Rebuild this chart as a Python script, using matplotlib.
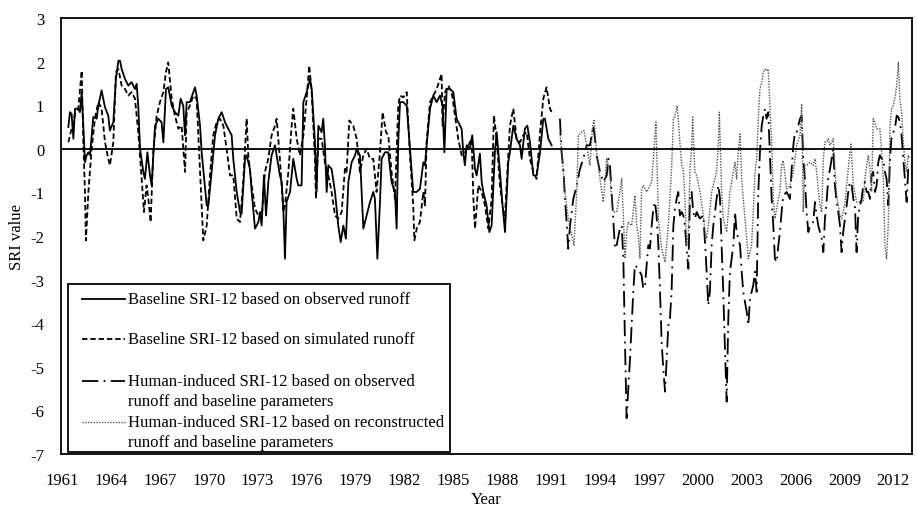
import numpy as np
import matplotlib
matplotlib.use('Agg')
import matplotlib.pyplot as plt
from matplotlib.lines import Line2D
from matplotlib.patches import Rectangle

# baseline SRI-12, observed runoff (1961-1990)
obs_year = [1961.39, 1961.49, 1961.59, 1961.70, 1961.80, 1962.00, 1962.10, 1962.21, 1962.31, 1962.41,
            1962.51, 1962.62, 1962.72, 1962.92, 1963.13, 1963.23, 1963.43, 1963.64, 1963.84, 1963.94,
            1964.15, 1964.31, 1964.46, 1964.56, 1964.66, 1964.87, 1965.07, 1965.27, 1965.48, 1965.58,
            1965.68, 1965.79, 1965.99, 1966.09, 1966.24, 1966.40, 1966.50, 1966.71, 1966.91, 1967.11,
            1967.22, 1967.38, 1967.52, 1967.73, 1967.93, 1968.14, 1968.28, 1968.44, 1968.55, 1968.65,
            1968.85, 1969.06, 1969.16, 1969.26, 1969.47, 1969.57, 1969.88, 1969.98, 1970.18, 1970.39,
            1970.59, 1970.80, 1971.00, 1971.20, 1971.41, 1971.51, 1971.72, 1971.92, 1972.02, 1972.23,
            1972.33, 1972.53, 1972.64, 1972.84, 1973.05, 1973.15, 1973.25, 1973.39, 1973.52, 1973.66,
            1973.86, 1974.07, 1974.37, 1974.48, 1974.58, 1974.68, 1974.78, 1974.99, 1975.19, 1975.40,
            1975.50, 1975.70, 1975.81, 1976.01, 1976.22, 1976.32, 1976.52, 1976.62, 1976.73, 1976.93,
            1977.03, 1977.13, 1977.24, 1977.34, 1977.54, 1977.75, 1977.95, 1978.10, 1978.26, 1978.42,
            1978.57, 1978.77, 1978.98, 1979.08, 1979.28, 1979.49, 1979.69, 1979.90, 1980.10, 1980.20,
            1980.35, 1980.51, 1980.61, 1980.82, 1981.02, 1981.22, 1981.43, 1981.53, 1981.63, 1981.74,
            1981.94, 1982.15, 1982.35, 1982.55, 1982.76, 1982.96, 1983.17, 1983.27, 1983.37, 1983.58,
            1983.78, 1983.99, 1984.19, 1984.35, 1984.46, 1984.60, 1984.80, 1985.01, 1985.11, 1985.21,
            1985.42, 1985.52, 1985.62, 1985.72, 1985.83, 1986.03, 1986.17, 1986.34, 1986.44, 1986.64,
            1986.75, 1986.85, 1987.05, 1987.22, 1987.36, 1987.56, 1987.67, 1987.87, 1988.03, 1988.18,
            1988.38, 1988.48, 1988.69, 1988.89, 1989.10, 1989.20, 1989.40, 1989.55, 1989.71, 1989.92,
            1990.12, 1990.33, 1990.53, 1990.63, 1990.84, 1991.04]
obs_sri = [0.50, 0.84, 0.80, 0.23, 0.92, 0.92, 0.84, 1.30, 0.53, -0.31,
           -0.15, -0.08, -0.15, 0.73, 0.69, 0.99, 1.34, 0.95, 0.76, 0.42,
           0.61, 1.60, 2.02, 2.02, 1.83, 1.60, 1.45, 1.53, 1.37, 1.49,
           0.99, 0.00, -0.53, -0.69, -0.08, -0.61, -0.84, 0.53, 0.69, 0.61,
           0.15, 1.37, 1.41, 0.99, 0.84, 0.76, 1.15, 0.99, 0.31, 1.07,
           1.07, 1.30, 1.41, 1.22, 0.53, -0.08, -1.30, -1.30, -0.53, 0.31,
           0.69, 0.84, 0.61, 0.46, 0.31, -0.23, -0.99, -1.45, -1.49, -0.23,
           -0.15, -0.46, -0.99, -1.83, -1.68, -1.45, -1.76, -0.61, -1.53, -0.76,
           -0.15, 0.08, -0.61, -0.76, -1.37, -2.52, -1.22, -0.99, -0.23, -0.69,
           -0.84, -0.84, 1.07, 1.30, 1.60, 1.37, 0.15, -0.99, 0.53, 0.38,
           0.69, 0.08, -0.99, -0.38, -0.46, -0.99, -1.76, -2.14, -1.76, -2.06,
           -0.76, -0.31, -0.15, 0.00, -0.15, -1.83, -1.53, -1.22, -0.99, -1.15,
           -2.52, -1.22, -0.23, -0.08, -0.08, -0.76, -0.99, -1.83, 0.15, 1.07,
           1.07, 0.99, 0.00, -0.99, -0.99, -0.92, -0.31, -0.38, 0.08, 0.92,
           1.22, 1.07, 1.22, 0.99, -0.08, 1.37, 1.37, 1.30, 0.99, 0.69,
           0.53, 0.46, -0.08, -0.38, 0.08, 0.00, 0.31, -0.46, -0.61, -0.11,
           -0.76, -0.99, -1.30, -1.91, -1.76, -0.08, 0.38, -0.53, -1.30, -1.91,
           -0.31, -0.08, 0.53, 0.23, 0.08, -0.23, 0.46, 0.53, 0.15, -0.61,
           -0.61, -0.08, 0.69, 0.69, 0.23, 0.08]

# baseline SRI-12, simulated runoff (1961-1990)
sim_year = [1961.39, 1961.49, 1961.70, 1961.80, 1962.00, 1962.21, 1962.31, 1962.41, 1962.47, 1962.62,
            1962.82, 1963.02, 1963.23, 1963.43, 1963.64, 1963.84, 1963.94, 1964.15, 1964.31, 1964.46,
            1964.66, 1964.87, 1965.07, 1965.27, 1965.48, 1965.68, 1965.89, 1966.03, 1966.19, 1966.30,
            1966.44, 1966.60, 1966.81, 1967.01, 1967.22, 1967.38, 1967.52, 1967.73, 1967.93, 1968.14,
            1968.34, 1968.55, 1968.65, 1968.85, 1969.06, 1969.26, 1969.47, 1969.67, 1969.88, 1970.08,
            1970.28, 1970.49, 1970.69, 1970.90, 1971.10, 1971.31, 1971.51, 1971.72, 1971.92, 1972.12,
            1972.33, 1972.43, 1972.64, 1972.84, 1973.05, 1973.25, 1973.45, 1973.66, 1973.86, 1974.07,
            1974.17, 1974.37, 1974.58, 1974.68, 1974.89, 1975.09, 1975.19, 1975.40, 1975.60, 1975.81,
            1976.01, 1976.17, 1976.32, 1976.52, 1976.58, 1976.73, 1976.93, 1977.13, 1977.34, 1977.54,
            1977.75, 1977.95, 1978.16, 1978.36, 1978.46, 1978.63, 1978.87, 1979.08, 1979.28, 1979.49,
            1979.69, 1979.90, 1980.10, 1980.30, 1980.51, 1980.67, 1980.88, 1981.02, 1981.22, 1981.43,
            1981.63, 1981.74, 1981.94, 1982.15, 1982.35, 1982.55, 1982.62, 1982.76, 1982.96, 1983.17,
            1983.27, 1983.37, 1983.58, 1983.78, 1983.99, 1984.19, 1984.29, 1984.35, 1984.50, 1984.70,
            1984.91, 1985.11, 1985.31, 1985.52, 1985.72, 1985.93, 1986.13, 1986.24, 1986.34, 1986.54,
            1986.75, 1986.95, 1987.16, 1987.36, 1987.50, 1987.67, 1987.87, 1988.08, 1988.18, 1988.38,
            1988.48, 1988.69, 1988.89, 1989.10, 1989.30, 1989.51, 1989.71, 1989.92, 1990.12, 1990.33,
            1990.53, 1990.73, 1990.94, 1991.04]
sim_sri = [0.15, 0.31, 0.61, 0.80, 0.92, 1.79, 0.15, -0.99, -2.10, -0.99,
           0.00, 0.69, 1.07, 0.92, 0.15, -0.23, -0.38, 0.15, 1.76, 1.83,
           1.45, 1.37, 1.22, 1.30, 1.15, 0.38, -0.69, -1.45, -0.84, -1.15,
           -1.68, -0.08, 0.76, 1.07, 1.30, 1.76, 1.98, 1.15, 0.76, 0.46,
           0.53, -0.53, 0.84, 0.99, 1.22, 1.15, -0.53, -2.10, -1.76, -0.61,
           0.31, 0.61, 0.69, 0.53, 0.00, -0.61, -0.61, -1.60, -1.68, -0.76,
           0.69, -0.15, -0.84, -1.37, -1.53, -1.60, -0.53, -0.23, 0.31, 0.53,
           0.69, -0.23, -1.45, -1.30, -0.53, 0.53, 0.92, 0.23, -0.15, 0.31,
           1.15, 1.91, 1.30, -0.23, -1.15, 0.23, 0.23, -0.31, -0.61, -0.99,
           -1.53, -1.60, -1.45, -0.46, -0.53, 0.65, 0.53, 0.23, -0.53, -0.15,
           0.00, -0.23, -0.23, -0.99, -0.08, 0.84, 0.38, 0.31, -0.53, -1.15,
           0.99, 1.22, 1.18, 1.30, -0.15, -1.30, -2.10, -1.83, -1.68, -0.99,
           -1.30, 0.15, 1.07, 1.22, 1.37, 1.60, 1.72, 0.53, 1.30, 1.45,
           1.30, 0.76, 0.23, -0.15, -0.08, 0.08, 0.23, -1.15, -1.83, -0.84,
           -0.99, -1.30, -1.83, -1.15, 0.76, 0.23, -0.84, -1.45, -1.53, -0.15,
           0.53, 0.92, 0.23, 0.15, 0.31, 0.38, -0.23, -0.53, -0.69, 0.38,
           1.15, 1.41, 0.92, 0.84]

# human-induced SRI-12, observed runoff (1991-2012)
hum_year = [1991.55, 1991.65, 1991.76, 1991.86, 1991.96, 1992.06, 1992.17, 1992.27, 1992.37, 1992.58,
            1992.78, 1992.98, 1993.19, 1993.39, 1993.60, 1993.70, 1993.80, 1994.01, 1994.21, 1994.42,
            1994.52, 1994.62, 1994.72, 1994.82, 1994.93, 1995.03, 1995.23, 1995.34, 1995.44, 1995.54,
            1995.64, 1995.85, 1996.05, 1996.15, 1996.36, 1996.56, 1996.66, 1996.77, 1996.97, 1997.07,
            1997.18, 1997.28, 1997.38, 1997.48, 1997.59, 1997.69, 1997.79, 1997.89, 1998.00, 1998.10,
            1998.20, 1998.30, 1998.40, 1998.51, 1998.61, 1998.71, 1998.81, 1998.91, 1999.02, 1999.12,
            1999.22, 1999.32, 1999.43, 1999.53, 1999.63, 1999.73, 1999.83, 1999.94, 2000.04, 2000.14,
            2000.35, 2000.51, 2000.65, 2000.75, 2000.86, 2000.96, 2001.16, 2001.27, 2001.37, 2001.47,
            2001.57, 2001.68, 2001.78, 2001.88, 2001.98, 2002.19, 2002.29, 2002.39, 2002.49, 2002.60,
            2002.70, 2002.80, 2002.90, 2003.01, 2003.11, 2003.21, 2003.41, 2003.52, 2003.62, 2003.72,
            2003.82, 2003.93, 2004.03, 2004.13, 2004.23, 2004.33, 2004.44, 2004.54, 2004.64, 2004.74,
            2004.85, 2004.95, 2005.05, 2005.15, 2005.25, 2005.46, 2005.66, 2005.77, 2005.87, 2005.97,
            2006.07, 2006.28, 2006.38, 2006.48, 2006.58, 2006.68, 2006.79, 2006.89, 2007.09, 2007.20,
            2007.30, 2007.40, 2007.50, 2007.61, 2007.71, 2007.81, 2007.91, 2008.01, 2008.12, 2008.22,
            2008.32, 2008.42, 2008.53, 2008.63, 2008.73, 2008.83, 2008.93, 2009.04, 2009.14, 2009.24,
            2009.34, 2009.45, 2009.55, 2009.65, 2009.75, 2009.85, 2009.96, 2010.06, 2010.16, 2010.26,
            2010.37, 2010.47, 2010.57, 2010.67, 2010.77, 2010.88, 2010.98, 2011.08, 2011.18, 2011.29,
            2011.39, 2011.49, 2011.59, 2011.70, 2011.80, 2011.90, 2012.00, 2012.10, 2012.21, 2012.31,
            2012.41, 2012.51, 2012.62, 2012.72, 2012.82, 2012.92]
hum_sri = [0.69, -0.08, -0.46, -1.15, -1.68, -2.29, -1.76, -1.45, -1.15, -0.84,
           -0.46, -0.23, 0.08, 0.08, 0.53, 0.23, -0.15, -0.53, -0.76, -0.61,
           -0.23, -0.38, -0.99, -1.60, -2.29, -2.21, -1.83, -1.76, -2.52, -4.43,
           -6.18, -4.81, -3.28, -2.67, -2.75, -2.90, -3.21, -3.13, -2.21, -2.29,
           -1.76, -1.37, -1.22, -1.53, -2.21, -3.28, -4.43, -5.04, -5.57, -4.81,
           -4.05, -3.89, -3.28, -1.76, -1.37, -1.15, -0.99, -1.53, -1.45, -1.53,
           -1.76, -2.29, -2.75, -1.07, -0.99, -1.45, -1.60, -1.45, -1.53, -1.60,
           -1.53, -2.52, -3.59, -3.28, -2.21, -1.76, -1.15, -0.84, -1.15, -2.21,
           -3.28, -4.66, -5.80, -3.89, -2.82, -2.21, -1.45, -1.91, -2.06, -2.21,
           -2.82, -3.28, -3.51, -3.74, -4.05, -3.44, -3.13, -2.82, -3.28, -0.99,
           -0.08, 0.53, 0.76, 0.92, 0.69, 0.84, -0.23, -1.15, -1.76, -2.52,
           -2.60, -2.21, -1.91, -1.45, -1.07, -0.99, -1.15, -0.46, 0.08, 0.38,
           0.38, 0.69, 0.76, -0.23, -0.69, -1.45, -1.91, -1.76, -1.68, -1.22,
           -1.53, -1.76, -1.91, -2.06, -2.37, -1.60, -1.22, -0.69, -0.46, -0.23,
           0.00, -0.84, -1.22, -1.45, -1.76, -2.37, -1.91, -1.60, -1.30, -0.99,
           -0.76, -0.84, -1.15, -1.30, -2.37, -1.53, -1.30, -1.15, -0.84, -0.76,
           -0.99, -0.99, -1.15, -0.61, -0.53, -0.99, -0.84, -0.31, -0.15, -0.23,
           -0.23, -0.53, -0.69, -1.30, -0.23, 0.31, 0.38, 0.46, 0.76, 0.73,
           0.61, 0.31, -0.23, -0.69, -1.22, -0.46]

# human-induced SRI-12, reconstructed runoff (1991-2012)
rec_year = [1991.55, 1991.86, 1992.06, 1992.27, 1992.41, 1992.58, 1992.68, 1992.88, 1993.02, 1993.19,
            1993.39, 1993.56, 1993.64, 1993.80, 1994.01, 1994.21, 1994.42, 1994.62, 1994.72, 1994.82,
            1995.03, 1995.23, 1995.34, 1995.44, 1995.54, 1995.64, 1995.74, 1995.95, 1996.15, 1996.26,
            1996.36, 1996.46, 1996.56, 1996.66, 1996.87, 1997.07, 1997.18, 1997.28, 1997.44, 1997.59,
            1997.79, 1998.00, 1998.20, 1998.40, 1998.51, 1998.61, 1998.75, 1998.91, 1999.02, 1999.12,
            1999.22, 1999.32, 1999.43, 1999.53, 1999.63, 1999.69, 1999.83, 1999.94, 2000.14, 2000.35,
            2000.45, 2000.55, 2000.65, 2000.86, 2001.06, 2001.16, 2001.27, 2001.33, 2001.47, 2001.57,
            2001.78, 2001.98, 2002.19, 2002.29, 2002.39, 2002.49, 2002.60, 2002.70, 2002.80, 2003.01,
            2003.11, 2003.31, 2003.41, 2003.52, 2003.62, 2003.72, 2003.82, 2003.93, 2004.03, 2004.13,
            2004.23, 2004.33, 2004.44, 2004.54, 2004.64, 2004.74, 2004.95, 2005.05, 2005.15, 2005.25,
            2005.36, 2005.46, 2005.66, 2005.87, 2005.97, 2006.07, 2006.28, 2006.38, 2006.48, 2006.58,
            2006.68, 2006.89, 2007.09, 2007.20, 2007.30, 2007.50, 2007.61, 2007.71, 2007.81, 2007.91,
            2008.01, 2008.12, 2008.32, 2008.42, 2008.53, 2008.63, 2008.73, 2008.83, 2008.93, 2009.04,
            2009.14, 2009.24, 2009.34, 2009.41, 2009.55, 2009.75, 2009.96, 2010.16, 2010.26, 2010.37,
            2010.47, 2010.57, 2010.67, 2010.77, 2010.88, 2010.98, 2011.18, 2011.29, 2011.39, 2011.49,
            2011.59, 2011.70, 2011.80, 2011.90, 2012.00, 2012.10, 2012.21, 2012.31, 2012.41, 2012.51,
            2012.62, 2012.72, 2012.82, 2012.92, 2013.02]
rec_sri = [0.38, -0.99, -1.60, -1.98, -2.21, -0.99, 0.31, 0.38, 0.42, 0.08,
           -0.38, 0.53, 0.65, -0.08, -0.69, -1.22, -0.23, -0.61, -1.15, -1.45,
           -1.45, -0.99, -0.69, -1.53, -2.52, -1.91, -1.68, -1.76, -1.07, -1.76,
           -1.98, -2.52, -0.92, -0.84, -0.99, -0.84, -0.76, -0.23, 0.61, -1.60,
           -2.29, -2.60, -1.76, -0.46, 0.69, 0.76, 0.99, 0.15, -0.38, -0.46,
           -1.15, -2.21, -1.91, -0.46, 0.00, 0.73, -0.53, -0.61, -0.99, -1.53,
           -1.91, -2.06, -1.76, -0.99, -0.69, -0.53, 0.08, 0.84, -0.99, -1.60,
           -1.91, -0.99, -0.53, -0.31, -0.69, -0.08, 0.34, -0.69, -1.15, -2.06,
           -2.52, -2.21, -1.45, -0.53, -0.23, 0.69, 1.37, 1.53, 1.76, 1.83,
           1.79, 1.83, 0.92, 0.15, -1.15, -1.60, -1.15, -0.99, -0.38, -0.27,
           -0.61, -0.92, -0.84, -0.53, -0.23, 0.08, 0.31, 1.03, -1.45, -0.38,
           -0.38, -0.31, -0.38, -0.23, -0.53, -1.30, -1.45, -0.23, 0.15, 0.15,
           0.23, 0.08, 0.23, -0.46, -1.07, -1.30, -1.53, -1.60, -1.45, -1.22,
           -0.84, -0.46, -0.08, 0.11, -0.84, -1.22, -1.22, -1.22, -0.69, -0.38,
           -0.15, -0.46, -0.99, 0.69, 0.61, 0.46, 0.46, -0.08, -0.69, -2.21,
           -2.52, -1.68, 0.53, 0.92, 0.99, 1.15, 1.45, 1.98, 1.15, 0.84,
           0.15, -0.31, -0.53, -0.15, -0.23]

tick_years = list(range(1961, 2013, 3))
labels = [['Baseline SRI-12 based on observed runoff'],
          ['Baseline SRI-12 based on simulated runoff'],
          ['Human-induced SRI-12 based on observed', 'runoff and baseline parameters'],
          ['Human-induced SRI-12 based on reconstructed', 'runoff and baseline parameters']]

plt.rcParams['font.family'] = ['Liberation Serif', 'DejaVu Serif']
plt.rcParams['axes.unicode_minus'] = False

W, H = 917, 510
fig = plt.figure(figsize=(W / 100, H / 100), dpi=100)
ax = fig.add_axes([61 / W, 55 / H, 851 / W, 436 / H])

styles = [dict(color='black', lw=1.3, ls='-'),
          dict(color='black', lw=1.3, ls=(0, (3, 1.6))),
          dict(color='black', lw=1.3, ls=(0, (9, 3, 1, 3))),
          dict(color='#555555', lw=1.0, ls=(0, (1, 1)))]

ax.plot(obs_year, obs_sri, **styles[0])
ax.plot(sim_year, sim_sri, **styles[1])
ax.plot(hum_year, hum_sri, **styles[2])
ax.plot(rec_year, rec_sri, **styles[3])
ax.axhline(0, color='black', lw=1.3)

ax.set_xlim(1960.94, 2013.15)
ax.set_ylim(-7, 3)
ax.set_xticks(tick_years)
ax.set_yticks(range(-7, 4))
ax.tick_params(length=0, labelsize=12)
ax.tick_params(axis='x', pad=13)
ax.tick_params(axis='y', pad=12)
for s in ax.spines.values():
    s.set_linewidth(1.3)

ax.set_xlabel('Year', fontsize=12, labelpad=2)
ax.set_ylabel('SRI value', fontsize=12, labelpad=4)

# legend box drawn by hand (Excel style: handle on the first text line)
def fp(x, y):
    return x / W, 1 - y / H

x0, y0 = fp(68, 453)
x1, y1 = fp(450, 285)
fig.add_artist(Rectangle((x0, y0), x1 - x0, y1 - y0, transform=fig.transFigure,
                         facecolor='white', edgecolor='black', lw=1.3, zorder=5))
row_y = [300, 340, 382, 423]
for st, lab, ry in zip(styles, labels, row_y):
    hx0, hy = fp(82, ry)
    hx1, _ = fp(125, ry)
    fig.add_artist(Line2D([hx0, hx1], [hy, hy], transform=fig.transFigure, zorder=6, **st))
    for k, line in enumerate(lab):
        tx, ty = fp(128, ry + 20.5 * k)
        fig.text(tx, ty, line, fontsize=12, va='center', ha='left', zorder=6)

fig.savefig('out.png', dpi=100)
